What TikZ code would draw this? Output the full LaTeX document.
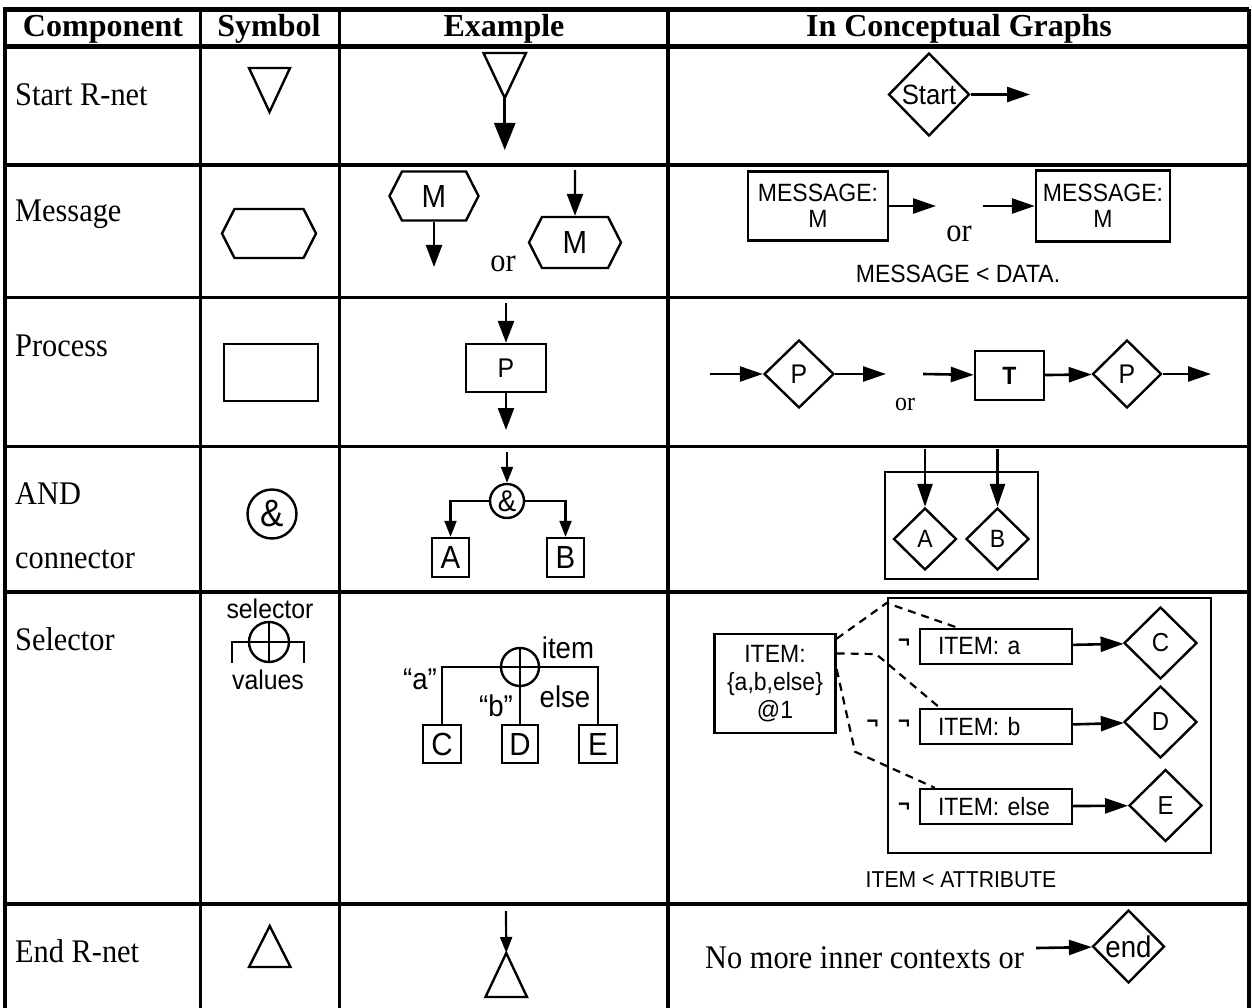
\documentclass[tikz,border=0pt]{standalone}
\usepackage{fontspec}
\setmainfont{Liberation Serif}[FakeStretch=0.92]
\newfontfamily\headfont{Liberation Serif}
\newfontfamily\lbl{Liberation Sans}[FakeStretch=0.92]
\usetikzlibrary{arrows.meta,shapes.geometric,shapes.symbols}

\newcommand\fsz[1]{\fontsize{#1}{#1}\selectfont}

\tikzset{
  outerrule/.style={line width=4.6pt},
  gridline/.style={line width=3.4pt},
  shp/.style={draw, line width=2.4pt, inner sep=0pt},
  box/.style={shp, rectangle},
  dia/.style={shp, diamond},
  hexa/.style={shp, signal, signal to=east and west, signal pointer angle=126},
  ring/.style={shp, circle},
  headtxt/.style={font=\headfont\bfseries\fsz{32}, anchor=base, inner sep=0pt},
  rowlabel/.style={font=\fsz{33}, anchor=base west, inner sep=0pt},
  serif/.style={font=\fsz{#1}, anchor=base, inner sep=0pt},
  serif/.default=33,
  lab/.style={font=\lbl\fsz{#1}, inner sep=0pt},
  lab/.default=25,
  cgitem/.style={box, lab, text width=116pt, inner xsep=18pt, minimum height=35pt, align=left},
  link/.style={line width=2.6pt, -{Triangle[length=23pt,width=15pt]}},
  bigdrop/.style={line width=2.6pt, -{Triangle[length=27pt,width=21pt]}},
  drop/.style={line width=2.4pt, -{Triangle[length=22pt,width=16pt]}},
  dropsm/.style={line width=2.2pt, -{Triangle[length=16pt,width=12pt]}},
  ctxline/.style={line width=2.2pt, dash pattern=on 8pt off 6pt},
}

\begin{document}
\begin{tikzpicture}[x=1pt, y=-1pt, line join=miter]
    \fill[white] (0,0) rectangle (1252,1008);
    \useasboundingbox (0,0) rectangle (1252,1008);

    % table rules
    \draw[outerrule] (5,1008) -- (5,9.5) -- (1249,9.5);
    \draw[outerrule] (5,46.5) -- (1249,46.5);
    \foreach \y in {165,297.5,446.5,592,904}
        {
            \draw[gridline] (5,\y) -- (1249,\y);
        }
    \foreach \x in {200.5,339.5,668,1249}
        {
            \draw[gridline] (\x,9.5) -- (\x,1008);
        }

    \node[headtxt] (hComp) at (103,37) {Component};
    \node[headtxt] (hSym) at (269,37) {Symbol};
    \node[headtxt] (hEx) at (504,37) {Example};
    \node[headtxt] (hCG) at (959,37) {In Conceptual Graphs};

    \node[rowlabel] (lStart) at (15,106) {Start R-net};
    \node[rowlabel] (lMsg) at (15,222) {Message};
    \node[rowlabel] (lProc) at (15,356) {Process};
    \node[rowlabel] (lAnd) at (15,504) {AND};
    \node[rowlabel] (lConn) at (15,568) {connector};
    \node[rowlabel] (lSel) at (15,650) {Selector};
    \node[rowlabel] (lEnd) at (15,962) {End R-net};

    % symbols
    \draw[shp] (249,68) -- (290,68) -- (269.5,112) -- cycle;
    \node[hexa, minimum width=94pt, minimum height=49pt] (symMsg) at (269,233.5) {};
    \node[box, minimum width=94pt, minimum height=57pt] (symProc) at (271,372.5) {};
    \node[ring, minimum size=49pt, lab=38] (symAnd) at (272,514) {\&};
    \node[lab=27] (tSel) at (270,609) {selector};
    \node[ring, minimum size=40pt] (symSel) at (269,642) {};
    \draw[shp] (symSel.north) -- (269,663) (232,663) -- (232,642) -- (304,642) -- (304,663);
    \node[lab=27] (tVal) at (268,680) {values};
    \draw[shp] (249,967) -- (290.5,967) -- (269.75,926) -- cycle;

    % examples
    \draw[shp] (483.5,53) -- (526,53) -- (504.75,98) coordinate (exApex) -- cycle;
    \coordinate (exOut) at (504.75,150);
    \draw[bigdrop] (exApex) -- (exOut);

    \node[hexa, minimum width=89pt, minimum height=49pt, lab=32] (m1) at (434,196) {M};
    \coordinate (m1out) at (434,267);
    \draw[drop] (m1) -- (m1out);
    \node[serif] (or1) at (503,272) {or};
    \coordinate (m2in) at (575,170);
    \node[hexa, minimum width=92pt, minimum height=51pt, lab=32] (m2) at (575,242.5) {M};
    \draw[drop] (m2in) -- (m2);

    \coordinate (pin) at (506,303);
    \node[box, minimum width=80pt, minimum height=48pt, lab=27] (p) at (506,368) {P};
    \coordinate (pout) at (506,430);
    \draw[drop] (pin) -- (p);
    \draw[drop] (p) -- (pout);

    \coordinate (andin) at (507,452);
    \node[ring, minimum size=34pt, lab=30] (and) at (507,501) {\&};
    \node[box, minimum width=37pt, minimum height=39pt, lab=32] (bA) at (450.5,557.5) {A};
    \node[box, minimum width=37pt, minimum height=39pt, lab=32] (bB) at (565.5,557.5) {B};
    \draw[dropsm] (andin) -- (and);
    \draw[dropsm] (and.west) -| (bA);
    \draw[dropsm] (and.east) -| (bB);

    \node[ring, minimum size=38pt] (sel) at (520,667) {};
    \draw[shp] (sel.north) -- (sel.south) (sel.west) -- (sel.east);
    \node[box, minimum width=38pt, minimum height=38pt, lab=32] (bC) at (442,744) {C};
    \node[box, minimum width=36pt, minimum height=38pt, lab=32] (bD) at (520,744) {D};
    \node[box, minimum width=38pt, minimum height=38pt, lab=32] (bE) at (598,744) {E};
    \draw[shp] (bC) |- (sel) -| (bE);
    \draw[shp] (sel) -- (bD);
    \node[lab=30] (tItem) at (568,648) {item};
    \node[lab=30] (tA) at (420,679) {“a”};
    \node[lab=30] (tB) at (496,706) {“b”};
    \node[lab=30] (tElse) at (565,697) {else};

    \coordinate (endin) at (506,911);
    \draw[shp] (485.5,997) -- (527,997) -- (506.25,953) coordinate (endApex) -- cycle;
    \draw[dropsm] (endin) -- (endApex);

    % conceptual graphs
    \node[dia, minimum width=81pt, minimum height=83pt, lab=28] (start) at (929,94.5) {Start};
    \coordinate (startout) at (1030,94.5);
    \draw[link] (start) -- (startout);

    \node[box, minimum width=140pt, minimum height=69pt, lab, align=center,
          font=\lbl\fontsize{25}{26}\selectfont] (msg1) at (818,206) {MESSAGE:\\M};
    \coordinate (msg1out) at (936,206);
    \draw[link] (msg1) -- (msg1out);
    \node[serif] (or2) at (959,242) {or};
    \coordinate (msg2in) at (983,206);
    \node[box, minimum width=134pt, minimum height=71pt, lab, align=center,
          font=\lbl\fontsize{25}{26}\selectfont] (msg2) at (1103,206) {MESSAGE:\\M};
    \draw[link] (msg2in) -- (msg2);
    \node[lab] (isaMsg) at (958,274) {MESSAGE < DATA.};

    \coordinate (cp1in) at (710,374);
    \node[dia, minimum width=70pt, minimum height=68pt, lab=27] (cp1) at (799,374) {P};
    \coordinate (cp1out) at (886,374);
    \draw[link] (cp1in) -- (cp1);
    \draw[link] (cp1) -- (cp1out);
    \node[serif=26] (or3) at (905,410) {or};
    \coordinate (tin) at (923,374);
    \node[box, minimum width=69pt, minimum height=49pt, lab, font=\lbl\bfseries\fsz{25}] (T) at (1009.5,375.5) {T};
    \node[dia, minimum width=69pt, minimum height=68pt, lab=27] (cp2) at (1127,374) {P};
    \coordinate (cp2out) at (1211,374);
    \draw[link] (tin) -- (T);
    \draw[link] (T) -- (cp2);
    \draw[link] (cp2) -- (cp2out);

    \node[box, minimum width=153pt, minimum height=107pt] (andctx) at (961.5,525.5) {};
    \node[dia, minimum width=63pt, minimum height=62pt, lab] (dA) at (925,539) {A};
    \node[dia, minimum width=63pt, minimum height=62pt, lab] (dB) at (997.5,539) {B};
    \coordinate (dAin) at (925,449);
    \coordinate (dBin) at (997.5,449);
    \draw[link] (dAin) -- (dA);
    \draw[link] (dBin) -- (dB);

    \node[box, minimum width=121pt, minimum height=99pt, lab, align=center,
          font=\lbl\fontsize{25}{28}\selectfont] (item) at (775,683.5) {ITEM:\\\{a,b,else\}\\@1};
    \node[box, minimum width=323pt, minimum height=255pt] (ctx) at (1049.5,725.5) {};
    \node[cgitem] (ia) at (996,646.5) {ITEM: a};
    \node[cgitem] (ib) at (996,726.5) {ITEM: b};
    \node[cgitem] (ie) at (996,806.5) {ITEM: else};
    \node[dia, minimum width=73pt, minimum height=72pt, lab=26] (dC) at (1160.5,643) {C};
    \node[dia, minimum width=73pt, minimum height=72pt, lab=26] (dD) at (1160.5,722) {D};
    \node[dia, minimum width=73pt, minimum height=72pt, lab=26] (dE) at (1165.5,805.5) {E};
    \draw[link] (ia) -- (dC);
    \draw[link] (ib) -- (dD);
    \draw[link] (ie) -- (dE);
    \foreach \nx/\ny [count=\k] in {904/643, 872.5/724, 904/724, 904/807}
        {
            \node[lab=22, font=\lbl\bfseries\fsz{22}] (neg\k) at (\nx,\ny) {¬};
        }
    \coordinate (bend1) at (886.6,603);
    \coordinate (bend2) at (876,654);
    \coordinate (bend3) at (855,751.7);
    \draw[ctxline] (item.36) -- (bend1) -- ([xshift=39pt]ia.north west);
    \draw[ctxline] (item.26) -- (bend2) -- ([xshift=21pt]ib.north west);
    \draw[ctxline] (item.13) -- (bend3) -- ([xshift=16pt]ie.north west);
    \node[lab=23] (isaItem) at (961,879.5) {ITEM < ATTRIBUTE};

    \node[rowlabel] (noMore) at (705,968) {No more inner contexts or};
    \coordinate (endin2) at (1036,948);
    \node[dia, minimum width=72pt, minimum height=73pt, lab=30] (dEnd) at (1128.5,946.5) {end};
    \draw[link] (endin2) -- (dEnd);
\end{tikzpicture}
\end{document}
